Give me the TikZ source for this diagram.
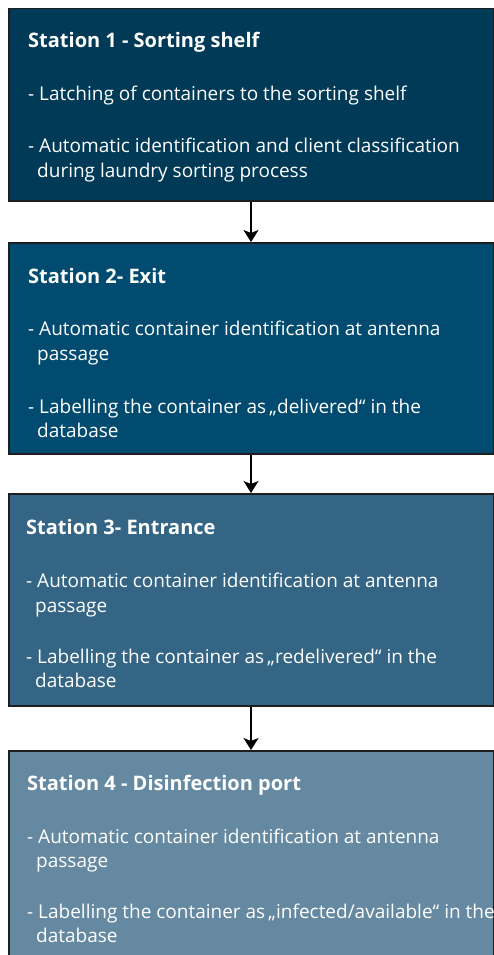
\documentclass[tikz,border=0pt]{standalone}
\usepackage{fontspec}
\setmainfont{Open Sans}
\usetikzlibrary{arrows.meta}
\definecolor{cA}{HTML}{013A57}
\definecolor{cB}{HTML}{014B70}
\definecolor{cC}{HTML}{346585}
\definecolor{cD}{HTML}{6689A2}
\definecolor{edge}{HTML}{1E1E1E}
\tikzset{
  stbox/.style={draw=edge, line width=1.5pt, rectangle, inner sep=0pt, anchor=north west, minimum width=484.5pt},
  ttl/.style={anchor=base west, inner sep=0pt, text=white, font=\fontsize{20}{24}\selectfont\bfseries},
  itm/.style={anchor=base west, inner sep=0pt, text=white, font=\fontsize{19}{23}\selectfont},
  arr/.style={draw=black, line width=1.6pt, -{Stealth[length=12pt,width=15pt,inset=3pt]}}
}
\begin{document}
\begin{tikzpicture}[x=1pt,y=-1pt]
\useasboundingbox (0,0) rectangle (494,955);
\clip (0,0) rectangle (494,955);
\fill[white] (0,0) rectangle (494,955);
% boxes
\node[stbox, fill=cA, minimum height=192pt] (b1) at (8,8) {};
\node[stbox, fill=cB, minimum height=211pt] (b2) at (8,242) {};
\node[stbox, fill=cC, minimum height=212pt] (b3) at (8,493) {};
\node[stbox, fill=cD, minimum height=230pt] (b4) at (8,750) {};
% box 1
\node[ttl] (t1) at (28,48) {Station 1 - Sorting shelf};
\node[itm] (t1a) at (28,101) {- Latching of containers to the sorting shelf};
\node[itm] (t1b) at (28,152) {- Automatic identification and client classification};
\node[itm] (t1c) at (37,177) {during laundry sorting process};
% box 2
\node[ttl] (t2) at (28,283) {Station 2- Exit};
\node[itm] (t2a) at (28,335) {- Automatic container identification at antenna};
\node[itm] (t2b) at (37,360) {passage};
\node[itm] (t2c) at (28,413) {- Labelling the container as\,„delivered“ in the};
\node[itm] (t2d) at (37,437) {database};
% box 3
\node[ttl] (t3) at (26,534) {Station 3- Entrance};
\node[itm] (t3a) at (26,587) {- Automatic container identification at antenna};
\node[itm] (t3b) at (35,612) {passage};
\node[itm] (t3c) at (26,663) {- Labelling the container as\,„redelivered“ in the};
\node[itm] (t3d) at (35,687) {database};
% box 4
\node[ttl] (t4) at (27,790) {Station 4 - Disinfection port};
\node[itm] (t4a) at (27,843) {- Automatic container identification at antenna};
\node[itm] (t4b) at (36,867) {passage};
\node[itm] (t4c) at (27,918) {- Labelling the container as\,„infected/available“ in the};
\node[itm] (t4d) at (36,942) {database};
% arrows
\draw[arr] (b1.south) -- (b2.north);
\draw[arr] (b2.south) -- (b3.north);
\draw[arr] (b3.south) -- (b4.north);
\end{tikzpicture}
\end{document}
